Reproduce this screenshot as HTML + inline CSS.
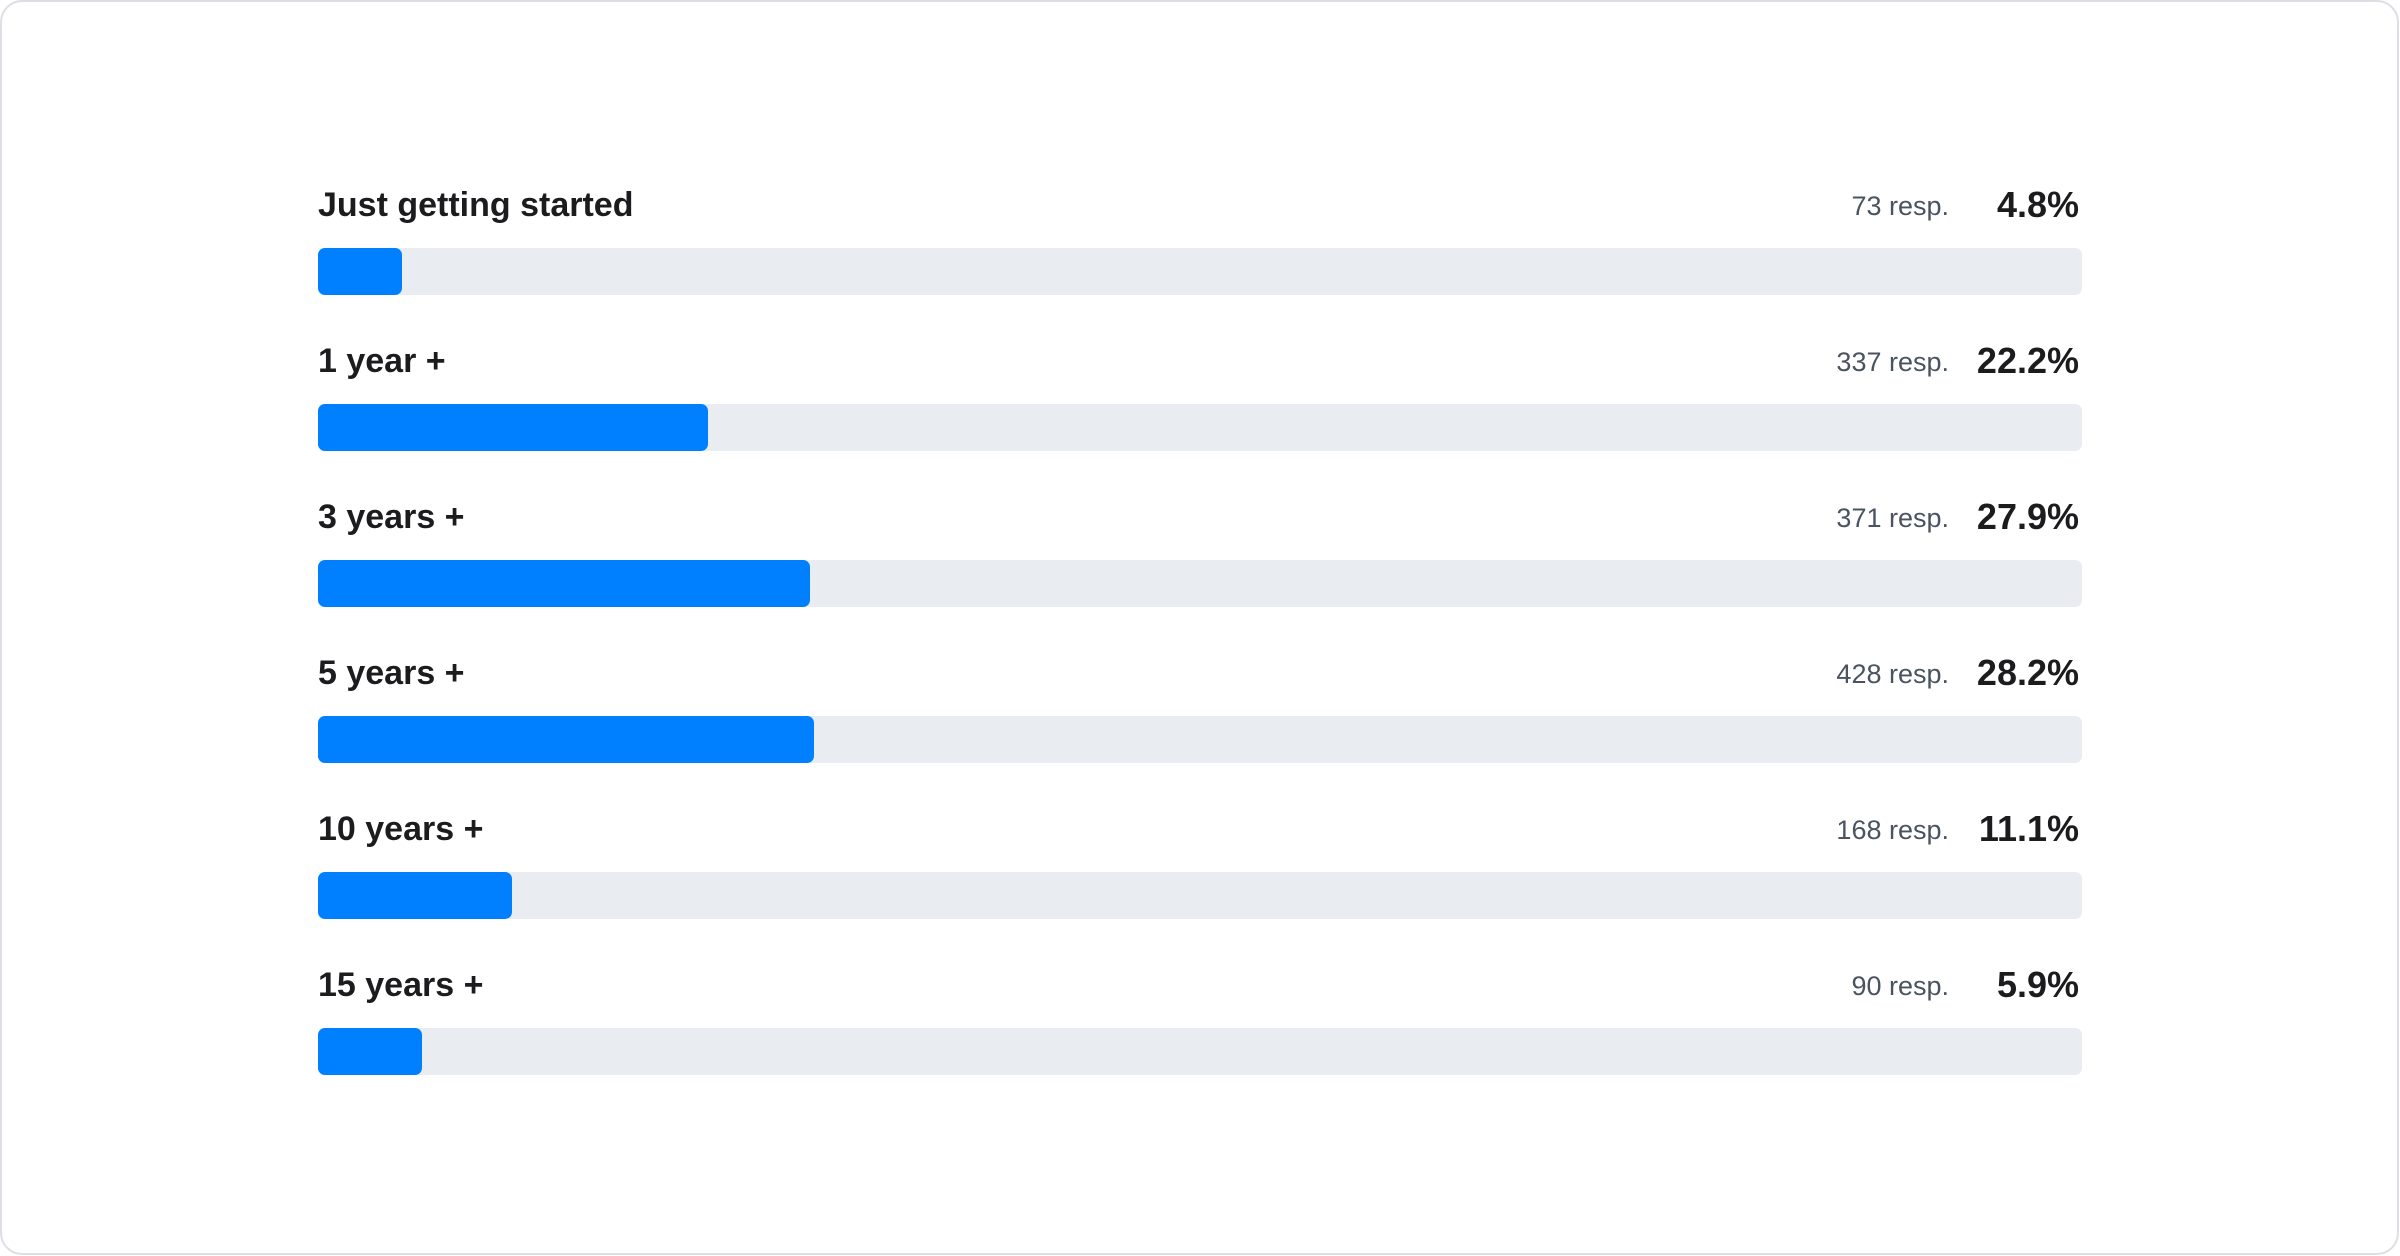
<!DOCTYPE html>
<html><head><meta charset="utf-8"><style>
html,body{margin:0;padding:0;background:#fff;}
body{width:2400px;height:1256px;position:relative;overflow:hidden;font-family:"Liberation Sans",sans-serif;}
.card{position:absolute;left:0px;top:0px;width:2399px;height:1255px;border:2px solid #dcdfe3;border-radius:22px;box-sizing:border-box;}
.row{position:absolute;left:318px;width:1764px;}
.lab{position:absolute;left:0;top:-33px;font-weight:bold;font-size:34px;color:#1c1c1e;line-height:40px;white-space:nowrap;}
.resp{position:absolute;right:133px;top:-30px;font-size:27px;color:#4a5461;line-height:36px;white-space:nowrap;}
.pct{position:absolute;right:3px;top:-33px;font-weight:bold;font-size:36px;color:#1c1c1e;line-height:40px;white-space:nowrap;}
.track{position:absolute;left:0;top:30px;width:1764px;height:47px;background:#e9ecf0;border-radius:7px;}
.fill{position:absolute;left:0;top:0;height:47px;background:#0080ff;border-radius:7px;}
</style></head><body>
<div class="card"></div>
<div class="row" style="top:218px"><div class="lab">Just getting started</div><div class="resp">73 resp.</div><div class="pct">4.8%</div><div class="track"><div class="fill" style="width:84px"></div></div></div>
<div class="row" style="top:374px"><div class="lab">1 year +</div><div class="resp">337 resp.</div><div class="pct">22.2%</div><div class="track"><div class="fill" style="width:390px"></div></div></div>
<div class="row" style="top:530px"><div class="lab">3 years +</div><div class="resp">371 resp.</div><div class="pct">27.9%</div><div class="track"><div class="fill" style="width:492px"></div></div></div>
<div class="row" style="top:686px"><div class="lab">5 years +</div><div class="resp">428 resp.</div><div class="pct">28.2%</div><div class="track"><div class="fill" style="width:496px"></div></div></div>
<div class="row" style="top:842px"><div class="lab">10 years +</div><div class="resp">168 resp.</div><div class="pct">11.1%</div><div class="track"><div class="fill" style="width:194px"></div></div></div>
<div class="row" style="top:998px"><div class="lab">15 years +</div><div class="resp">90 resp.</div><div class="pct">5.9%</div><div class="track"><div class="fill" style="width:104px"></div></div></div>
</body></html>
